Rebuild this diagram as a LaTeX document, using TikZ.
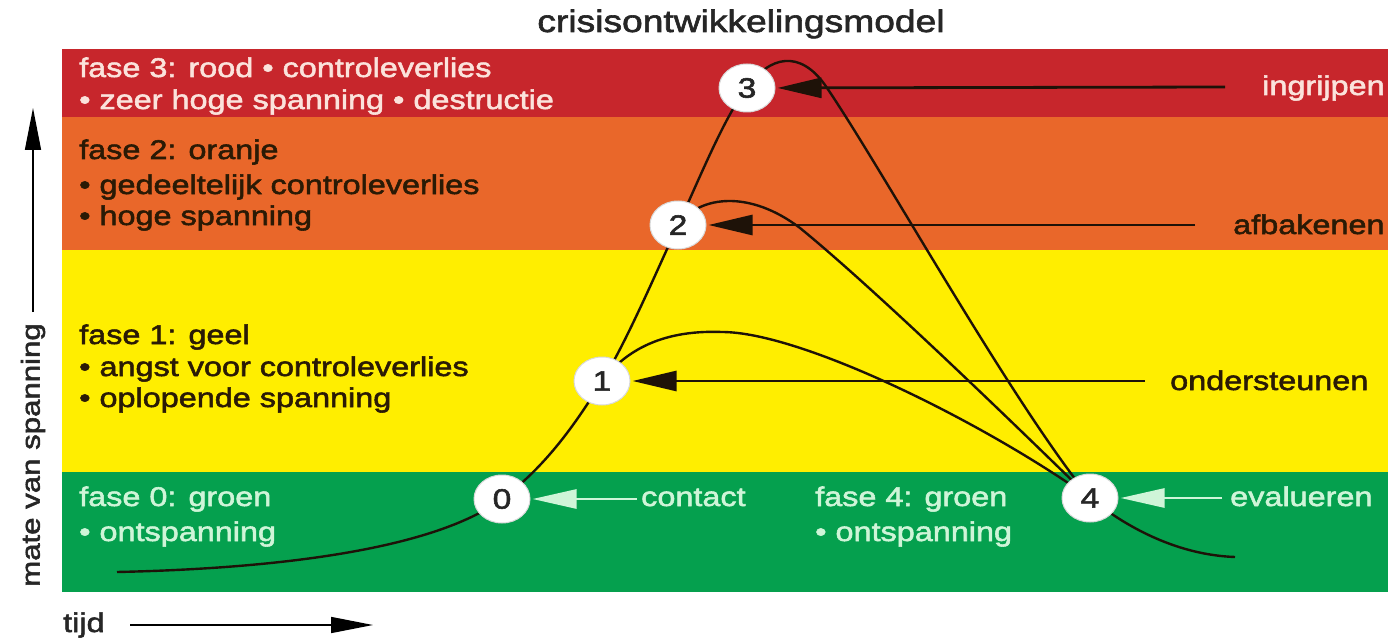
\documentclass[tikz,border=0pt]{standalone}
\usepackage{fontspec}
\setmainfont[FakeStretch=1.2,FakeBold=2]{Liberation Sans}
\usetikzlibrary{arrows.meta,shapes.geometric}
\definecolor{bandred}{HTML}{C7262C}
\definecolor{bandorange}{HTML}{E9672A}
\definecolor{bandyellow}{HTML}{FFEE00}
\definecolor{bandgreen}{HTML}{05A04E}
\definecolor{lighttxt}{HTML}{CFF5D8}
\definecolor{pinktxt}{HTML}{FBE3DC}
\definecolor{darktxt}{HTML}{2A1A05}
\definecolor{curvecol}{HTML}{1E1208}
\begin{document}
\begin{tikzpicture}[x=1pt,y=-1pt,
  txt/.style={font=\fontsize{27}{32}\selectfont, inner sep=0pt, anchor=base west},
  numnode/.style={ellipse, fill=white, draw=black!15, line width=1pt, minimum width=56pt, minimum height=48pt, inner sep=0pt, font=\fontsize{28}{32}\selectfont, text=black!85},
  curve/.style={draw=curvecol, line width=2.4pt},
  blackarr/.style={draw=curvecol, line width=2.8pt, -{Triangle[length=44pt,width=20pt]}, shorten >=2pt},
  whitearr/.style={draw=lighttxt, line width=2.8pt, -{Triangle[length=44pt,width=19pt]}, shorten >=2pt},
  axisarr/.style={draw=black, line width=1.6pt, -{Triangle[length=42pt,width=16pt]}}]
\useasboundingbox (0,0) rectangle (1388,639);
\fill[white] (0,0) rectangle (1388,639);
% bands
\fill[bandred] (62,49) rectangle (1388,117);
\fill[bandorange] (62,117) rectangle (1388,250);
\fill[bandyellow] (62,250) rectangle (1388,472);
\fill[bandgreen] (62,472) rectangle (1388,592);
% title
\node[font=\fontsize{31}{35}\selectfont, inner sep=0pt, anchor=base, text=black!85] (title) at (741,32) {crisisontwikkelingsmodel};
% band texts
\node[txt, text=pinktxt] (r1) at (79,77) {fase 3: rood • controleverlies};
\node[txt, text=pinktxt] (r2) at (79,109) {• zeer hoge spanning • destructie};
\node[txt, text=darktxt] (o1) at (79,159) {fase 2: oranje};
\node[txt, text=darktxt] (o2) at (79,194) {• gedeeltelijk controleverlies};
\node[txt, text=darktxt] (o3) at (79,225) {• hoge spanning};
\node[txt, text=darktxt] (y1) at (79,344) {fase 1: geel};
\node[txt, text=darktxt] (y2) at (79,376) {• angst voor controleverlies};
\node[txt, text=darktxt] (y3) at (79,407) {• oplopende spanning};
\node[txt, text=lighttxt] (g1) at (79,506) {fase 0: groen};
\node[txt, text=lighttxt] (g2) at (79,541) {• ontspanning};
\node[txt, text=lighttxt] (g3) at (815,506) {fase 4: groen};
\node[txt, text=lighttxt] (g4) at (815,541) {• ontspanning};
% right labels
\node[txt, text=pinktxt] (lab3) at (1262,95) {ingrijpen};
\node[txt, text=darktxt] (lab2) at (1233,234) {afbakenen};
\node[txt, text=darktxt] (lab1) at (1170,390) {ondersteunen};
\node[txt, text=lighttxt] (lab0) at (641,506) {contact};
\node[txt, text=lighttxt] (lab4) at (1230,506) {evalueren};
% curve anchor points
\coordinate (p0) at (502,499);
\coordinate (p1) at (602,381);
\coordinate (p2) at (678,225);
\coordinate (p3) at (747,88);
\coordinate (p4) at (1090,498);
\coordinate (cs) at (117,572);
\coordinate (ce) at (1235,557);
% curves
\draw[curve] (cs) .. controls (300,568) and (440,545) .. (p0)
  .. controls (545,467) and (575,425) .. (p1)
  .. controls (625,345) and (655,275) .. (p2)
  .. controls (698,182) and (725,115) .. (p3)
  .. controls (770,55) and (800,50) .. (825,85)
  .. controls (880,165) and (1010,400) .. (p4);
\draw[curve] (p1) .. controls (630,345) and (670,330) .. (722,332)
  .. controls (800,332) and (980,420) .. (p4);
\draw[curve] (p2) .. controls (700,195) and (750,190) .. (800,228)
  .. controls (870,285) and (1000,410) .. (p4);
\draw[curve] (p4) .. controls (1130,530) and (1180,555) .. (ce);
% circles
\node[numnode] (c0) at (p0) {0};
\node[numnode] (c1) at (p1) {1};
\node[numnode] (c2) at (p2) {2};
\node[numnode] (c3) at (p3) {3};
\node[numnode] (c4) at (p4) {4};
% arrows
\coordinate (s3) at (1225,87);
\coordinate (s2) at (1195,225);
\coordinate (s1) at (1145,381);
\coordinate (s0) at (637,499);
\coordinate (s4) at (1222,498);
\draw[blackarr] (s3) -- (c3);
\draw[blackarr] (s2) -- (c2);
\draw[blackarr] (s1) -- (c1);
\draw[whitearr] (s0) -- (c0);
\draw[whitearr] (s4) -- (c4);
% axes
\node[font=\fontsize{26}{30}\selectfont, inner sep=0pt, rotate=90, text=black!85] (ylab) at (33,455) {mate van spanning};
\coordinate (ya) at (33,312);
\coordinate (yb) at (33,108);
\draw[axisarr] (ya) -- (yb);
\node[font=\fontsize{27}{32}\selectfont, inner sep=0pt, anchor=base west, text=black!85] (xlab) at (63,632) {tijd};
\coordinate (xa) at (130,625);
\coordinate (xb) at (373,625);
\draw[axisarr] (xa) -- (xb);
\end{tikzpicture}
\end{document}
